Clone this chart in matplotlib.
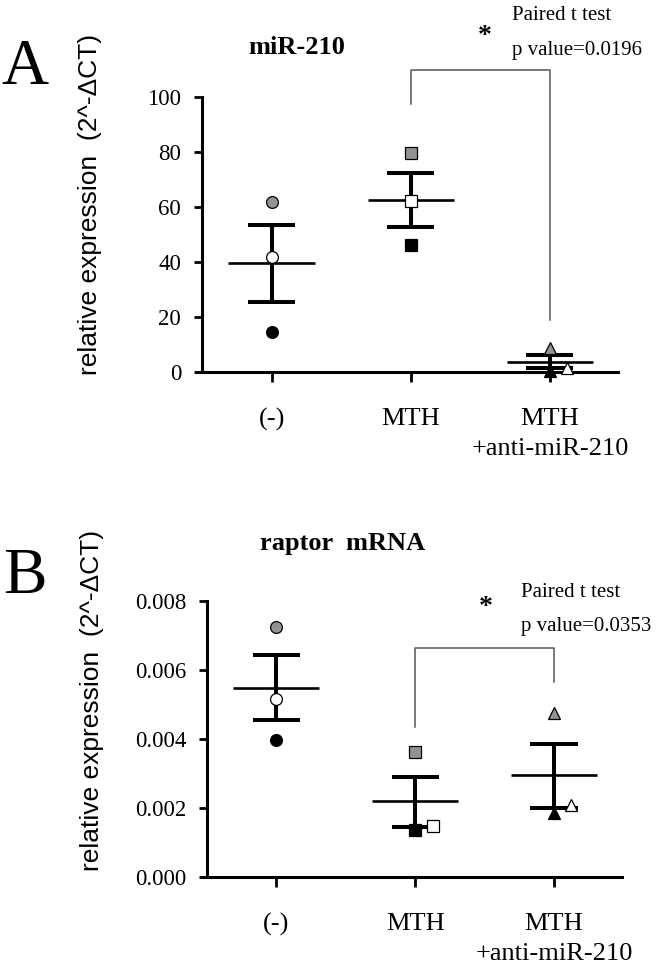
import numpy as np
import matplotlib.pyplot as plt

# figure size in pixels (dpi 100)
W, H = 666, 969

groups = ['(-)', 'MTH', 'MTH\n+anti-miR-210']
xpos = np.array([1, 2, 3])

# panel A: miR-210
A_mean = [39.5, 62.5, 3.8]
A_upper = [53.5, 72.3, 6.2]
A_lower = [25.5, 52.8, 1.4]
A_gray = [61.8, 79.6, 8.6]
A_white = [41.9, 62.3, 1.4]
A_black = [14.5, 46.2, 0.3]
A_white_dx = [0.0, 0.0, 0.12]
A_yticks = [0, 20, 40, 60, 80, 100]

# panel B: raptor mRNA
B_mean = [0.00549, 0.00220, 0.00296]
B_upper = [0.00643, 0.00290, 0.00386]
B_lower = [0.00455, 0.00145, 0.00201]
B_gray = [0.00725, 0.00363, 0.00476]
B_white = [0.00517, 0.00148, 0.00210]
B_black = [0.00397, 0.00135, 0.00186]
B_white_dx = [0.0, 0.13, 0.12]
B_yticks = [0.000, 0.002, 0.004, 0.006, 0.008]

markers = ['o', 's', '^']
msizes = [8.5, 8, 8.5]

serif = ['Liberation Serif', 'DejaVu Serif']
sans = ['Liberation Sans', 'DejaVu Sans']
plt.rcParams['font.family'] = serif


def px_axes(fig, x0, x1, y_top, y_bot):
    return fig.add_axes([x0 / W, 1 - y_bot / H, (x1 - x0) / W, (y_bot - y_top) / H])


def panel(ax, mean, upper, lower, gray, white, black, wdx, yticks, ylim, fmt):
    ax.set_xlim(0.464, 3.49)
    ax.set_ylim(*ylim)
    for i, x in enumerate(xpos):
        ax.plot([x - 0.31, x + 0.31], [mean[i], mean[i]], color='black', lw=1.9,
                solid_capstyle='butt', zorder=2)
        ax.plot([x, x], [lower[i], upper[i]], color='black', lw=2.9,
                solid_capstyle='butt', zorder=2)
        for v in (lower[i], upper[i]):
            ax.plot([x - 0.17, x + 0.17], [v, v], color='black', lw=2.9,
                    solid_capstyle='butt', zorder=2)
        kw = dict(marker=markers[i], ms=msizes[i], mec='black', mew=0.9,
                  linestyle='none', zorder=3, clip_on=False)
        ax.plot(x, gray[i], mfc='#939393', **kw)
        ax.plot(x, black[i], mfc='black', **kw)
        ax.plot(x + wdx[i], white[i], mfc='white', **kw)

    for s in ['top', 'right']:
        ax.spines[s].set_visible(False)
    ax.spines['left'].set_position(('data', 0.5))
    ax.spines['left'].set_linewidth(2.2)
    ax.spines['bottom'].set_linewidth(2.2)
    ax.set_xticks(xpos)
    ax.set_xticklabels(groups, fontsize=19)
    ax.set_yticks(yticks)
    ax.set_yticklabels([fmt.format(v) for v in yticks], fontsize=16.5)
    ax.tick_params(axis='x', length=7, width=2, pad=19)
    ax.tick_params(axis='y', length=6, width=2, pad=9)
    for lbl in ax.get_xticklabels():
        lbl.set_linespacing(1.45)


fig = plt.figure(figsize=(W / 100, H / 100), dpi=100)

axA = px_axes(fig, 197, 618, 97, 372)
panel(axA, A_mean, A_upper, A_lower, A_gray, A_white, A_black, A_white_dx,
      A_yticks, (0, 100), '{:.0f}')
axA.plot([2, 2, 3, 3], [97.5, 109.7, 109.7, 18.8], color='#555555', lw=1.1,
         clip_on=False, zorder=1)
axA.text(2.53, 122, '*', fontsize=20, ha='center', va='center', fontweight='bold')
axA.text(2.73, 129.6, 'Paired t test', fontsize=15, ha='left', va='center')
axA.text(2.73, 117, 'p value=0.0196', fontsize=15, ha='left', va='center')
axA.text(1.18, 118, 'miR-210', fontsize=19, fontweight='bold', ha='center', va='center')

axB = px_axes(fig, 202, 622, 601, 877)
panel(axB, B_mean, B_upper, B_lower, B_gray, B_white, B_black, B_white_dx,
      B_yticks, (0, 0.008), '{:.3f}')
axB.plot([2, 2, 3, 3], [0.00435, 0.00664, 0.00664, 0.00565], color='#555555',
         lw=1.1, clip_on=False, zorder=1)
axB.text(2.51, 0.0078, '*', fontsize=20, ha='center', va='center', fontweight='bold')
axB.text(2.76, 0.00826, 'Paired t test', fontsize=15, ha='left', va='center')
axB.text(2.76, 0.00725, 'p value=0.0353', fontsize=15, ha='left', va='center')
axB.text(1.48, 0.00968, 'raptor  mRNA', fontsize=19, fontweight='bold',
         ha='center', va='center')

ylab = 'relative expression  (2^-\u0394CT)'
fig.text(90 / W, 1 - 204 / H, ylab, rotation=90, ha='center', va='center',
         fontsize=19, family=sans)
fig.text(92 / W, 1 - 700 / H, ylab, rotation=90, ha='center', va='center',
         fontsize=19, family=sans)

fig.text(25 / W, 1 - 68 / H, 'A', fontsize=47, ha='center', va='center')
fig.text(25 / W, 1 - 577 / H, 'B', fontsize=47, ha='center', va='center')

fig.savefig('out.png', dpi=100)
